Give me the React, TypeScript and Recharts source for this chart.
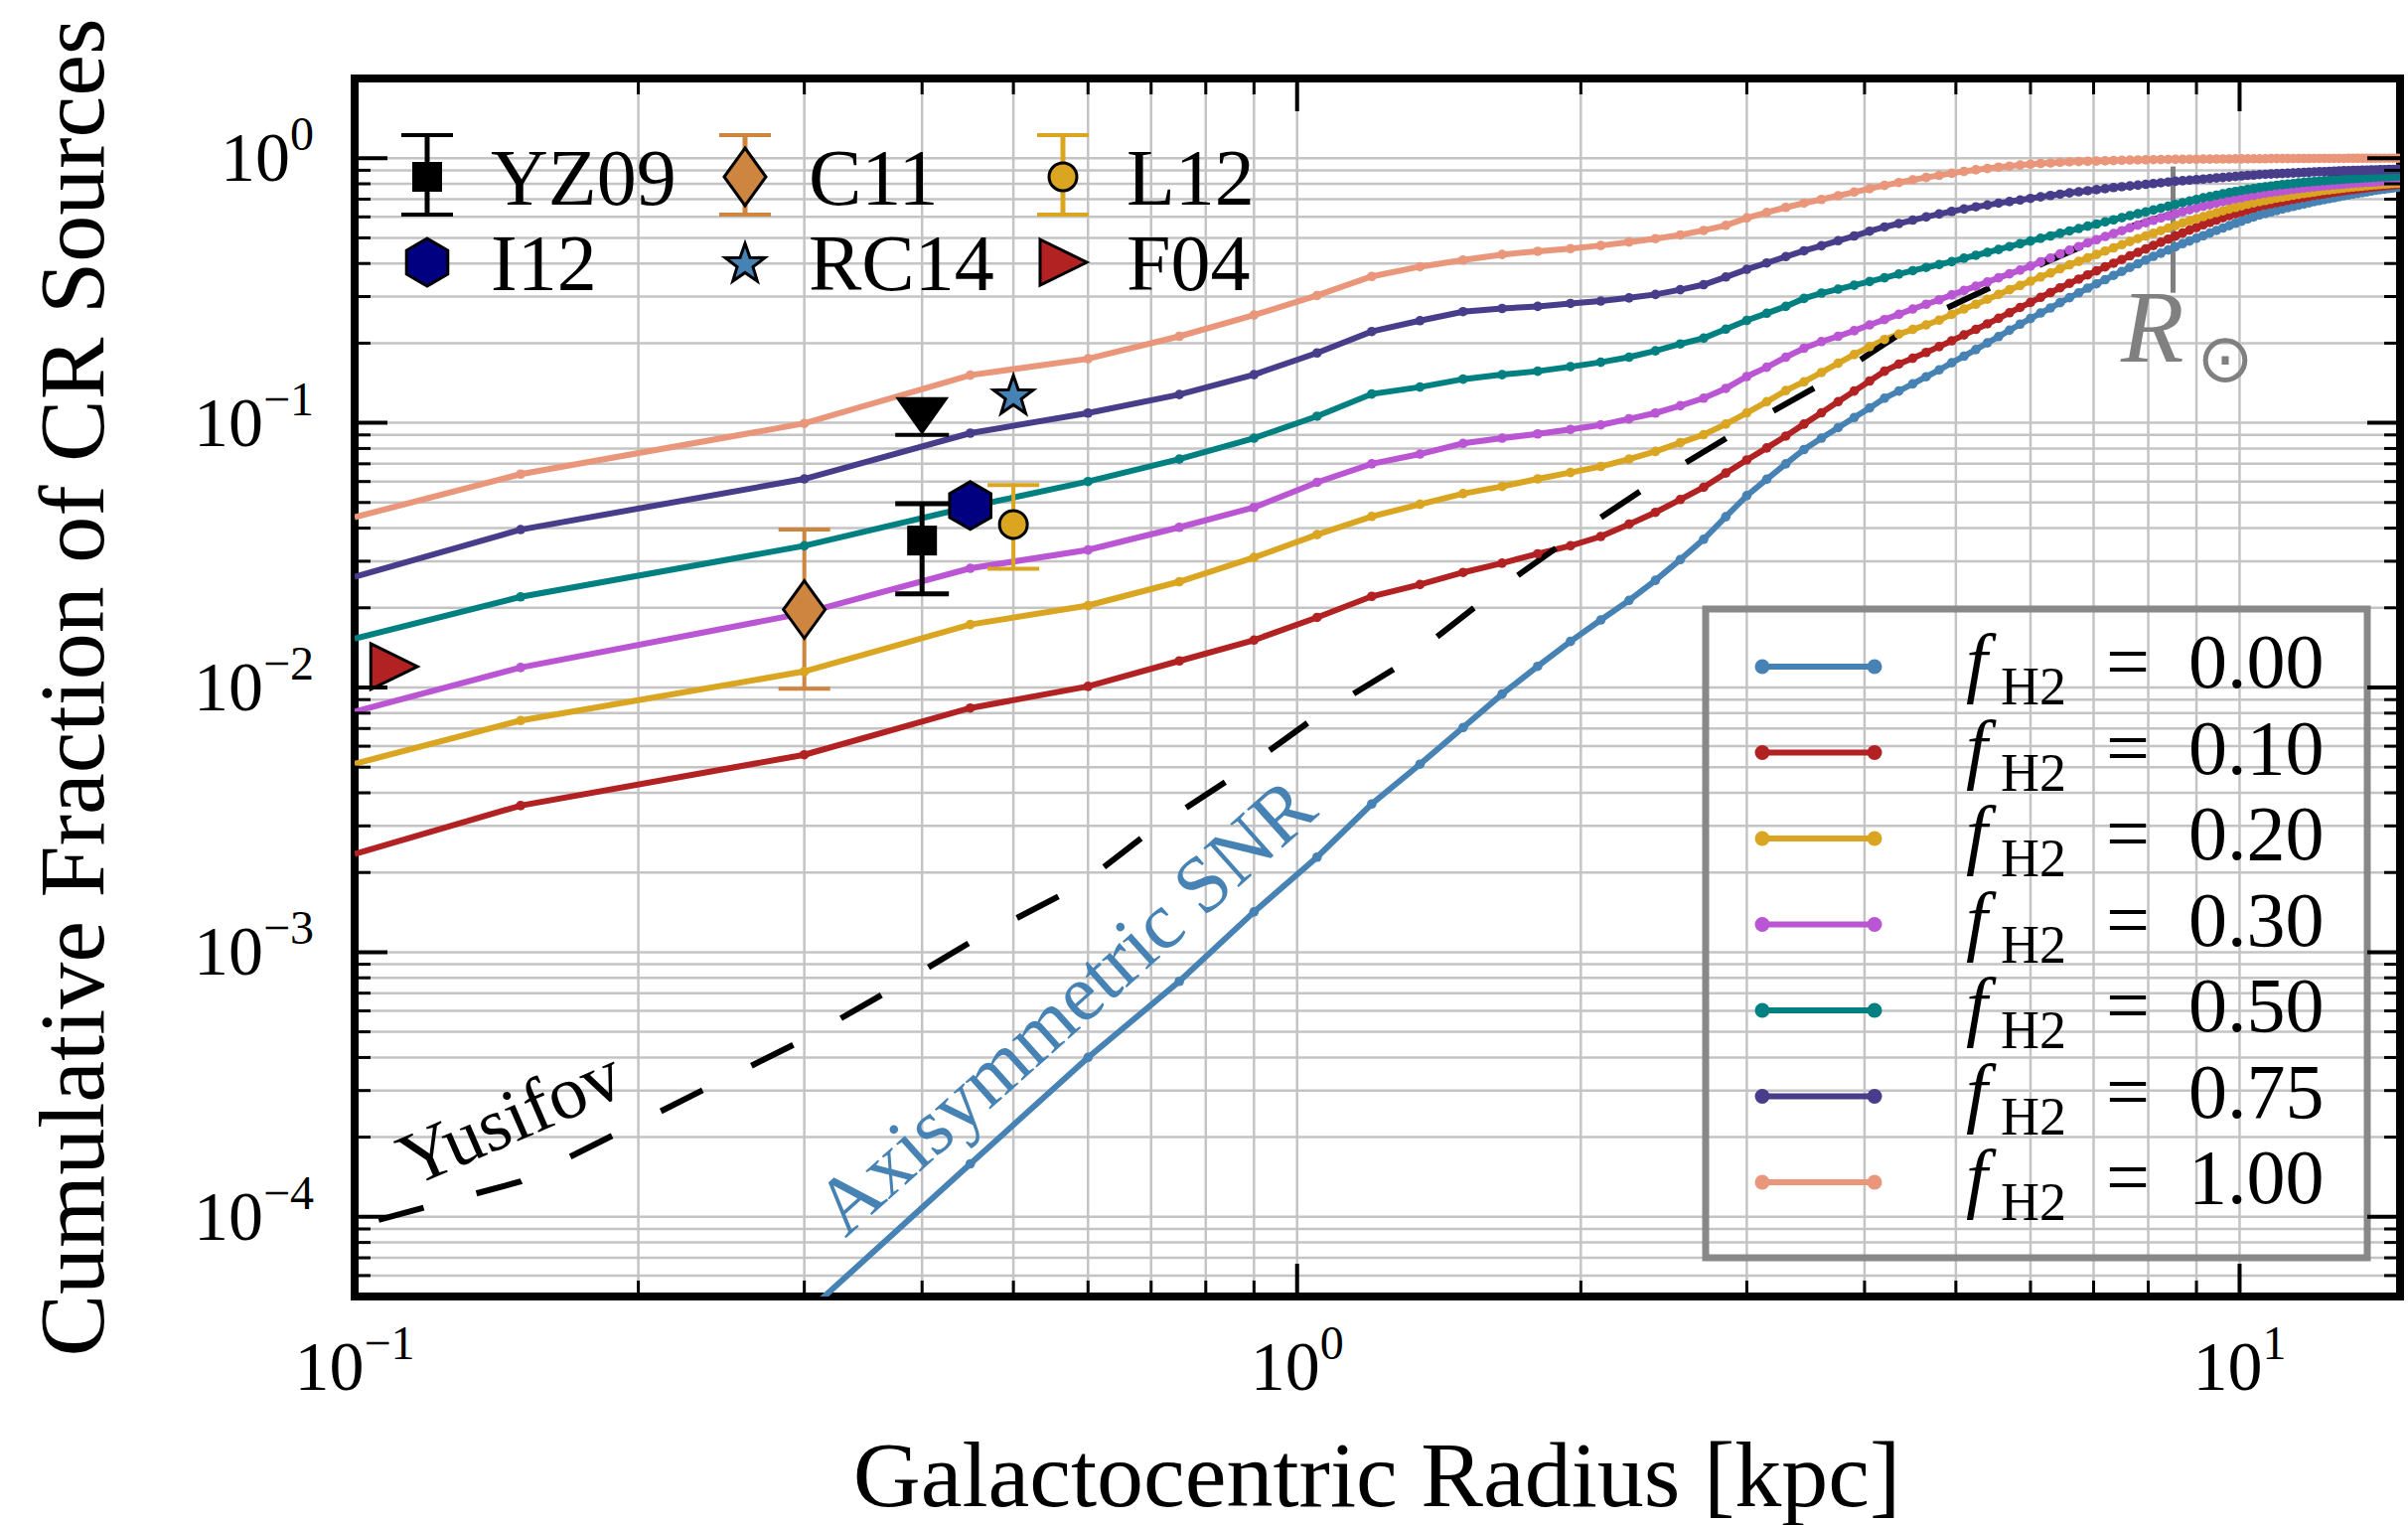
import React from 'react';
import {
  ComposedChart,
  Line,
  Scatter,
  XAxis,
  YAxis,
  CartesianGrid,
  ErrorBar,
  ReferenceLine,
  Customized,
} from 'recharts';

// ---------------- data ----------------
const R_GRID = [
  0.1,
  0.15, 0.3, 0.45, 0.6, 0.75, 0.9, 1.05, 1.2, 1.35, 1.5,
  1.65, 1.8, 1.95, 2.1, 2.25, 2.4, 2.55, 2.7, 2.85, 3.0,
  3.15, 3.3, 3.45, 3.6, 3.75, 3.9, 4.05, 4.2, 4.35, 4.5,
  4.65, 4.8, 4.95, 5.1, 5.25, 5.4, 5.55, 5.7, 5.85, 6.0,
  6.15, 6.3, 6.45, 6.6, 6.75, 6.9, 7.05, 7.2, 7.35, 7.5,
  7.65, 7.8, 7.95, 8.1, 8.25, 8.4, 8.55, 8.7, 8.85, 9.0,
  9.15, 9.3, 9.45, 9.6, 9.75, 9.9, 10.05, 10.2, 10.35, 10.5,
  10.65, 10.8, 10.95, 11.1, 11.25, 11.4, 11.55, 11.7, 11.85, 12.0,
  12.15, 12.3, 12.45, 12.6, 12.75, 12.9, 13.05, 13.2, 13.35, 13.5,
  13.65, 13.8, 13.95, 14.1, 14.25, 14.4, 14.55, 14.7, 14.85, 15.0,
];

const F_000: (number | null)[] = [
  null,
  5e-6, 4.27e-5, 1.585e-4, 4.0e-4, 7.76e-4, 1.419e-3, 2.286e-3, 3.63e-3, 5.13e-3, 7.06e-3,
  9.44e-3, 0.01202, 0.01493, 0.01799, 0.02133, 0.02541, 0.03041, 0.03631, 0.04416, 0.05309,
  0.06124, 0.06998, 0.07925, 0.0875, 0.0959, 0.1047, 0.1138, 0.1239, 0.1318, 0.1403,
  0.1493, 0.1585, 0.1687, 0.1786, 0.1892, 0.2004, 0.2118, 0.2239, 0.236, 0.2477,
  0.26, 0.2716, 0.2844, 0.2972, 0.3097, 0.3228, 0.335, 0.3475, 0.3606, 0.3733,
  0.3864, 0.399, 0.4121, 0.4256, 0.4375, 0.4498, 0.4624, 0.4753, 0.4864, 0.4977,
  0.5093, 0.5212, 0.5333, 0.5445, 0.5559, 0.5675, 0.5781, 0.5888, 0.5998, 0.6095,
  0.618, 0.626, 0.634, 0.642, 0.65, 0.657, 0.664, 0.671, 0.678, 0.685,
  0.691, 0.697, 0.703, 0.709, 0.715, 0.721, 0.726, 0.731, 0.736, 0.741,
  0.746, 0.751, 0.756, 0.76, 0.764, 0.768, 0.772, 0.776, 0.78, 0.784,
];

const F_010: (number | null)[] = [
  0.00235,
  0.00358, 0.00557, 0.00836, 0.0101, 0.0126, 0.0151, 0.0184, 0.0221, 0.0245, 0.0272,
  0.0295, 0.032, 0.0343, 0.0372, 0.0414, 0.0459, 0.0513, 0.0571, 0.0646, 0.0724,
  0.0804, 0.0891, 0.0989, 0.1091, 0.1202, 0.1318, 0.1439, 0.1567, 0.1667, 0.1754,
  0.1845, 0.1941, 0.2042, 0.2148, 0.2254, 0.2366, 0.2483, 0.2606, 0.2729, 0.2851,
  0.2979, 0.3105, 0.3236, 0.3365, 0.3491, 0.3622, 0.375, 0.3882, 0.4009, 0.414,
  0.4276, 0.4406, 0.4539, 0.4677, 0.4808, 0.4943, 0.5082, 0.5212, 0.5346, 0.547,
  0.5598, 0.5715, 0.5834, 0.5957, 0.6067, 0.6166, 0.6266, 0.6368, 0.6471, 0.6577,
  0.665, 0.672, 0.679, 0.686, 0.693, 0.699, 0.705, 0.711, 0.717, 0.723,
  0.728, 0.733, 0.738, 0.743, 0.748, 0.753, 0.757, 0.761, 0.765, 0.769,
  0.773, 0.777, 0.78, 0.783, 0.786, 0.789, 0.792, 0.795, 0.797, 0.799,
];

const F_020: (number | null)[] = [
  0.00515,
  0.0075, 0.0115, 0.0173, 0.0204, 0.0251, 0.031, 0.0378, 0.0443, 0.0492, 0.054,
  0.0575, 0.0614, 0.0649, 0.0684, 0.0729, 0.078, 0.0841, 0.0902, 0.0989, 0.1091,
  0.1202, 0.1324, 0.1429, 0.1549, 0.1679, 0.1811, 0.1941, 0.2065, 0.2163, 0.2254,
  0.2344, 0.2443, 0.257, 0.2692, 0.2805, 0.2931, 0.3055, 0.3184, 0.3304, 0.3428,
  0.3556, 0.3681, 0.3819, 0.3954, 0.4074, 0.4198, 0.4325, 0.4457, 0.4581, 0.471,
  0.4842, 0.4966, 0.5082, 0.52, 0.5321, 0.5445, 0.5559, 0.5689, 0.5794, 0.5902,
  0.6012, 0.6124, 0.6223, 0.6324, 0.6427, 0.6516, 0.6607, 0.6699, 0.6776, 0.6855,
  0.692, 0.699, 0.706, 0.712, 0.718, 0.724, 0.73, 0.735, 0.74, 0.745,
  0.75, 0.755, 0.759, 0.763, 0.767, 0.771, 0.775, 0.778, 0.781, 0.784,
  0.787, 0.79, 0.793, 0.796, 0.798, 0.8, 0.802, 0.804, 0.806, 0.808,
];

const F_030: (number | null)[] = [
  0.0081,
  0.0119, 0.0191, 0.0282, 0.0331, 0.0403, 0.0479, 0.0596, 0.07, 0.0762, 0.0836,
  0.0875, 0.0908, 0.0944, 0.0982, 0.1035, 0.1089, 0.1161, 0.1239, 0.1349, 0.1496,
  0.1622, 0.177, 0.1914, 0.2028, 0.2123, 0.2228, 0.2344, 0.2455, 0.257, 0.2692,
  0.2805, 0.2917, 0.3041, 0.3162, 0.3281, 0.3404, 0.3532, 0.3656, 0.3776, 0.3908,
  0.4055, 0.4188, 0.4345, 0.4487, 0.4634, 0.4786, 0.492, 0.5058, 0.5188, 0.5321,
  0.5458, 0.5585, 0.5702, 0.5821, 0.5943, 0.6053, 0.6166, 0.6281, 0.6383, 0.6486,
  0.6577, 0.6668, 0.6761, 0.6855, 0.6934, 0.7015, 0.7096, 0.7178, 0.7244, 0.7311,
  0.737, 0.743, 0.748, 0.753, 0.758, 0.763, 0.767, 0.771, 0.775, 0.779,
  0.783, 0.786, 0.789, 0.792, 0.795, 0.798, 0.801, 0.804, 0.806, 0.808,
  0.81, 0.812, 0.814, 0.816, 0.818, 0.82, 0.822, 0.824, 0.826, 0.828,
];

const F_050: (number | null)[] = [
  0.0153,
  0.022, 0.0343, 0.0482, 0.06, 0.0729, 0.0875, 0.1059, 0.1285, 0.1365, 0.1462,
  0.1521, 0.1567, 0.1629, 0.1694, 0.177, 0.1871, 0.1986, 0.2089, 0.2259, 0.2438,
  0.2594, 0.2754, 0.2951, 0.309, 0.3199, 0.3311, 0.342, 0.3532, 0.3648, 0.3758,
  0.3864, 0.3963, 0.4064, 0.4188, 0.4295, 0.4406, 0.4519, 0.4634, 0.4753, 0.4864,
  0.4977, 0.5082, 0.52, 0.5309, 0.542, 0.5534, 0.5636, 0.5741, 0.5848, 0.5957,
  0.6067, 0.6166, 0.6266, 0.6368, 0.6471, 0.6577, 0.6683, 0.6792, 0.6887, 0.6982,
  0.7079, 0.7161, 0.7244, 0.7328, 0.7413, 0.7482, 0.7551, 0.7621, 0.7674, 0.7745,
  0.78, 0.785, 0.79, 0.794, 0.798, 0.802, 0.806, 0.81, 0.813, 0.816,
  0.819, 0.822, 0.825, 0.828, 0.83, 0.833, 0.835, 0.837, 0.839, 0.841,
  0.843, 0.845, 0.847, 0.849, 0.851, 0.852, 0.854, 0.856, 0.857, 0.858,
];

const F_075: (number | null)[] = [
  0.0262,
  0.0395, 0.0614, 0.0914, 0.1089, 0.1279, 0.1521, 0.1837, 0.2213, 0.2432, 0.263,
  0.2704, 0.2754, 0.2825, 0.2884, 0.2965, 0.3055, 0.3184, 0.3327, 0.3556, 0.3802,
  0.4018, 0.4246, 0.4467, 0.4667, 0.4875, 0.5082, 0.5297, 0.5495, 0.5662, 0.5834,
  0.5998, 0.6152, 0.6295, 0.6427, 0.6546, 0.6653, 0.6761, 0.6855, 0.695, 0.7047,
  0.7145, 0.7228, 0.7311, 0.7396, 0.7464, 0.7534, 0.7603, 0.7674, 0.7745, 0.7798,
  0.7852, 0.7907, 0.7962, 0.8017, 0.8072, 0.8128, 0.8185, 0.8222, 0.826, 0.8299,
  0.8337, 0.8375, 0.8414, 0.8453, 0.8492, 0.8531, 0.857, 0.861, 0.863, 0.867,
  0.869, 0.871, 0.873, 0.875, 0.877, 0.879, 0.881, 0.883, 0.885, 0.887,
  0.889, 0.89, 0.891, 0.893, 0.894, 0.896, 0.897, 0.898, 0.899, 0.9,
  0.901, 0.902, 0.903, 0.904, 0.905, 0.906, 0.907, 0.908, 0.909, 0.91,
];

const F_100: (number | null)[] = [
  0.044,
  0.064, 0.0995, 0.1514, 0.1746, 0.2123, 0.2553, 0.3027, 0.3573, 0.389, 0.4121,
  0.4325, 0.4446, 0.455, 0.4677, 0.4819, 0.4966, 0.5129, 0.5333, 0.5572, 0.5943,
  0.6237, 0.6516, 0.6761, 0.6982, 0.7211, 0.7447, 0.7674, 0.7889, 0.8091, 0.8279,
  0.8453, 0.861, 0.877, 0.8913, 0.9036, 0.9141, 0.9247, 0.9333, 0.9419, 0.9484,
  0.955, 0.959, 0.964, 0.968, 0.971, 0.973, 0.975, 0.977, 0.979, 0.982,
  0.984, 0.985, 0.986, 0.987, 0.988, 0.989, 0.99, 0.99, 0.991, 0.991,
  0.992, 0.992, 0.993, 0.993, 0.993, 0.994, 0.994, 0.994, 0.995, 0.995,
  0.995, 0.996, 0.996, 0.996, 0.996, 0.997, 0.997, 0.997, 0.997, 0.998,
  0.998, 0.998, 0.998, 0.998, 0.998, 0.998, 0.999, 0.999, 0.999, 0.999,
  0.999, 0.999, 0.999, 1.0, 1.0, 1.0, 1.0, 1.0, 1.0, 1.0,
];

const YUS_R = [0.1, 0.15, 0.2, 0.25, 0.3, 0.38, 0.45, 0.59, 0.7, 0.85, 1.05, 1.29, 1.61, 1.98, 2.44, 3.01, 3.71, 4.6, 5.96, 7.53, 9.6, 12.4, 15];
const YUS_F = [9.2e-5, 1.36e-4, 2.27e-4, 3.39e-4, 4.68e-4, 7.6e-4, 1.09e-3, 1.8e-3, 2.88e-3, 4.53e-3, 7.8e-3, 0.0122, 0.0226, 0.0382, 0.0625, 0.098, 0.149, 0.245, 0.378, 0.542, 0.704, 0.85, 0.91];

// observational points: R, f, lower bound, upper bound
const YZ09 = { R: 0.4, f: 0.0359, lo: 0.0226, hi: 0.0495 };
const YZ09_LIMIT = { R: 0.4, f: 0.09 };
const C11 = { R: 0.3, f: 0.0197, lo: 0.0099, hi: 0.0395 };
const L12 = { R: 0.5, f: 0.0413, lo: 0.0281, hi: 0.0582 };
const I12 = { R: 0.45, f: 0.0487 };
const RC14 = { R: 0.5, f: 0.128 };
const F04 = { R: 0.11, f: 0.012 };

const R_SUN = 8.5;
const R_SUN_RANGE = [0.31, 0.93];

const FH2_LABELS = ['0.00', '0.10', '0.20', '0.30', '0.50', '0.75', '1.00'];
const FH2_COLORS = ['#4682b4', '#b22222', '#daa520', '#ba55d3', '#008080', '#483d8b', '#e9967a'];
const FH2_VALUES = [F_000, F_010, F_020, F_030, F_050, F_075, F_100];

const X_TICKS = [0.1, 0.2, 0.3, 0.4, 0.5, 0.6, 0.7, 0.8, 0.9, 1, 2, 3, 4, 5, 6, 7, 8, 9, 10];
const Y_TICKS = [
  5e-5, 6e-5, 7e-5, 8e-5, 9e-5,
  1e-4, 2e-4, 3e-4, 4e-4, 5e-4, 6e-4, 7e-4, 8e-4, 9e-4,
  1e-3, 2e-3, 3e-3, 4e-3, 5e-3, 6e-3, 7e-3, 8e-3, 9e-3,
  0.01, 0.02, 0.03, 0.04, 0.05, 0.06, 0.07, 0.08, 0.09,
  0.1, 0.2, 0.3, 0.4, 0.5, 0.6, 0.7, 0.8, 0.9,
  1, 2,
];

// ---------------- layout / style ----------------
const FONT = '"Liberation Serif", "Times New Roman", Times, serif';
const CHART_W = 2424;
const CHART_H = 1535;
const PLOT = { left: 357, top: 79, right: 2416, bottom: 1305 };

const curveTable = FH2_LABELS.map((label, i) => ({
  label,
  color: FH2_COLORS[i],
  data: R_GRID.map((R, j) => ({ R, f: FH2_VALUES[i][j] })),
}));
const yusData = YUS_R.map((R, i) => ({ R, f: YUS_F[i] }));
const withErr = (p: { R: number; f: number; lo: number; hi: number }) => [
  { R: p.R, f: p.f, err: [p.f - p.lo, p.hi - p.f] },
];

const isMajor = (v: number) => Math.abs(Math.log10(v) - Math.round(Math.log10(v))) < 1e-6;
const expText = (v: number) => {
  const e = Math.round(Math.log10(v));
  return e < 0 ? '\u2212' + String(-e) : String(e);
};

function XTick(props: any) {
  const { x, payload } = props;
  const v = payload.value;
  const major = isMajor(v);
  const len = major ? 33 : 16;
  const sw = major ? 4 : 3;
  const inside = x > PLOT.left + 3 && x < PLOT.right - 3;
  return (
    <g>
      {inside && (
        <>
          <line x1={x} x2={x} y1={PLOT.bottom} y2={PLOT.bottom - len} stroke="#000" strokeWidth={sw} />
          <line x1={x} x2={x} y1={PLOT.top} y2={PLOT.top + len} stroke="#000" strokeWidth={sw} />
        </>
      )}
      {major && (
        <text x={x} y={1399} textAnchor="middle" fontFamily={FONT} fontSize={70} fill="#000">
          10
          <tspan dy={-31} fontSize={48}>
            {expText(v)}
          </tspan>
        </text>
      )}
    </g>
  );
}

function YTick(props: any) {
  const { y, payload } = props;
  const v = payload.value;
  const major = isMajor(v);
  const len = major ? 33 : 16;
  const sw = major ? 4 : 3;
  const inside = y > PLOT.top + 3 && y < PLOT.bottom - 3;
  return (
    <g>
      {inside && (
        <>
          <line x1={PLOT.left} x2={PLOT.left + len} y1={y} y2={y} stroke="#000" strokeWidth={sw} />
          <line x1={PLOT.right} x2={PLOT.right - len} y1={y} y2={y} stroke="#000" strokeWidth={sw} />
        </>
      )}
      {major && (
        <text x={316} y={y + 23} textAnchor="end" fontFamily={FONT} fontSize={70} fill="#000">
          10
          <tspan dy={-31} fontSize={48}>
            {expText(v)}
          </tspan>
        </text>
      )}
    </g>
  );
}

function Marker({ kind, cx, cy }: { kind: string; cx: number; cy: number }) {
  if (cx == null || cy == null || !isFinite(cx) || !isFinite(cy)) return <g />;
  switch (kind) {
    case 'square':
      return <rect x={cx - 15} y={cy - 15} width={30} height={30} fill="#000" />;
    case 'limit':
      return (
        <g>
          <polygon points={`${cx - 27},${cy - 38} ${cx + 27},${cy - 38} ${cx},${cy}`} fill="#000" />
          <line x1={cx - 27} x2={cx + 27} y1={cy} y2={cy} stroke="#000" strokeWidth={4} />
        </g>
      );
    case 'diamond':
      return (
        <polygon
          points={`${cx},${cy - 29} ${cx + 21},${cy} ${cx},${cy + 29} ${cx - 21},${cy}`}
          fill="#cd853f"
          stroke="#000"
          strokeWidth={3}
        />
      );
    case 'circle':
      return <circle cx={cx} cy={cy} r={14} fill="#daa520" stroke="#000" strokeWidth={3} />;
    case 'hexagon': {
      const pts = [-90, -30, 30, 90, 150, 210]
        .map((a) => `${cx + 24 * Math.cos((a * Math.PI) / 180)},${cy + 24 * Math.sin((a * Math.PI) / 180)}`)
        .join(' ');
      return <polygon points={pts} fill="#000080" stroke="#000" strokeWidth={3} />;
    }
    case 'star': {
      const pts: string[] = [];
      for (let i = 0; i < 10; i++) {
        const r = i % 2 === 0 ? 21 : 8.4;
        const a = ((-90 + i * 36) * Math.PI) / 180;
        pts.push(`${cx + r * Math.cos(a)},${cy + 2 + r * Math.sin(a)}`);
      }
      return <polygon points={pts.join(' ')} fill="#4682b4" stroke="#000" strokeWidth={3} />;
    }
    case 'triright':
      return (
        <polygon
          points={`${cx - 23},${cy - 23} ${cx + 24},${cy} ${cx - 23},${cy + 23}`}
          fill="#b22222"
          stroke="#000"
          strokeWidth={3}
        />
      );
    default:
      return <g />;
  }
}

const shapeOf = (kind: string) => (p: any) => <Marker kind={kind} cx={p.cx} cy={p.cy} />;

const dotOf = (color: string) => (p: any) => {
  const { cx, cy, payload, index } = p;
  if (cx == null || cy == null || !isFinite(cy) || payload == null || payload.R < 0.12 || payload.f == null) {
    return <g key={`d${index}`} />;
  }
  return <circle key={`d${index}`} cx={cx} cy={cy} r={4.8} fill={color} stroke="none" />;
};

const LEGEND1 = [
  { kind: 'square', label: 'YZ09', err: '#000', col: 0, row: 0 },
  { kind: 'diamond', label: 'C11', err: '#cd853f', col: 1, row: 0 },
  { kind: 'circle', label: 'L12', err: '#daa520', col: 2, row: 0 },
  { kind: 'hexagon', label: 'I12', err: null, col: 0, row: 1 },
  { kind: 'star', label: 'RC14', err: null, col: 1, row: 1 },
  { kind: 'triright', label: 'F04', err: null, col: 2, row: 1 },
];
const L1_COLS = [430, 750, 1070];
const L1_ROWS = [178, 264];

function Overlay() {
  return (
    <g>
      {/* plot frame */}
      <rect
        x={PLOT.left}
        y={PLOT.top}
        width={PLOT.right - PLOT.left}
        height={PLOT.bottom - PLOT.top}
        fill="none"
        stroke="#000"
        strokeWidth={8}
      />
      {/* axis titles */}
      <text x={1386} y={1516} textAnchor="middle" fontFamily={FONT} fontSize={94} fill="#000">
        Galactocentric Radius [kpc]
      </text>
      <text
        transform="translate(104,692) rotate(-90)"
        textAnchor="middle"
        fontFamily={FONT}
        fontSize={94}
        fill="#000"
      >
        Cumulative Fraction of CR Sources
      </text>
      {/* annotations */}
      <text
        transform="translate(513,1124) rotate(-23.5)"
        textAnchor="middle"
        dominantBaseline="central"
        fontFamily={FONT}
        fontSize={76}
        fill="#000"
      >
        Yusifov
      </text>
      <text
        transform="translate(1072,1013) rotate(-41.8)"
        textAnchor="middle"
        dominantBaseline="central"
        fontFamily={FONT}
        fontSize={81}
        fill="#4682b4"
      >
        Axisymmetric SNR
      </text>
      <text x={2135} y={364} fontFamily={FONT} fontStyle="italic" fontSize={104} fill="#808080">
        R
      </text>
      <text x={2240} y={384} textAnchor="middle" fontFamily='"DejaVu Sans", sans-serif' fontSize={68} fill="#808080">
        ⊙
      </text>
      {/* upper-left legend */}
      {LEGEND1.map((e) => {
        const cx = L1_COLS[e.col];
        const cy = L1_ROWS[e.row];
        return (
          <g key={e.label}>
            {e.err && (
              <g stroke={e.err} strokeWidth={5}>
                <line x1={cx} x2={cx} y1={cy - 42} y2={cy + 38} />
                <line x1={cx - 26} x2={cx + 26} y1={cy - 42} y2={cy - 42} strokeWidth={4} />
                <line x1={cx - 26} x2={cx + 26} y1={cy + 38} y2={cy + 38} strokeWidth={4} />
              </g>
            )}
            <Marker kind={e.kind} cx={cx} cy={cy} />
            <text x={cx + 64} y={cy + 28} fontFamily={FONT} fontSize={80} fill="#000">
              {e.label}
            </text>
          </g>
        );
      })}
      {/* f_H2 legend */}
      <rect x={1717} y={613} width={666} height={653} fill="none" stroke="#888" strokeWidth={7} />
      {curveTable.map((c, i) => {
        const y = 671 + 86.5 * i;
        return (
          <g key={c.label}>
            <line x1={1774} x2={1887} y1={y} y2={y} stroke={c.color} strokeWidth={6} />
            <circle cx={1774} cy={y} r={7.5} fill={c.color} />
            <circle cx={1887} cy={y} r={7.5} fill={c.color} />
            <text y={y + 21} fontFamily={FONT} fontSize={78} fill="#000">
              <tspan x={1979} fontStyle="italic">
                f
              </tspan>
              <tspan x={2014} dy={17} fontSize={54}>
                H2
              </tspan>
              <tspan x={2120} dy={-17}>
                =
              </tspan>
              <tspan x={2203}>{c.label}</tspan>
            </text>
          </g>
        );
      })}
    </g>
  );
}

export default function App() {
  return (
    <>
      <style>{'html,body{margin:0;padding:0;background:#fff;}'}</style>
      <ComposedChart
        width={CHART_W}
        height={CHART_H}
        margin={{ top: PLOT.top, right: CHART_W - PLOT.right, bottom: 0, left: 0 }}
      >
        <CartesianGrid stroke="#c4c4c4" strokeWidth={2.5} />
        <XAxis
          dataKey="R"
          type="number"
          scale="log"
          domain={[0.1, 14.8]}
          allowDataOverflow
          ticks={X_TICKS}
          interval={0}
          tick={(p: any) => <XTick {...p} />}
          tickLine={false}
          axisLine={false}
          height={CHART_H - PLOT.bottom}
        />
        <YAxis
          dataKey="f"
          type="number"
          scale="log"
          domain={[5e-5, 2]}
          allowDataOverflow
          ticks={Y_TICKS}
          interval={0}
          tick={(p: any) => <YTick {...p} />}
          tickLine={false}
          axisLine={false}
          width={PLOT.left}
        />
        <ReferenceLine
          segment={[
            { x: R_SUN, y: R_SUN_RANGE[0] },
            { x: R_SUN, y: R_SUN_RANGE[1] },
          ]}
          stroke="#808080"
          strokeWidth={5}
        />
        {curveTable.map((c) => (
          <Line
            key={c.label}
            data={c.data}
            dataKey="f"
            type="linear"
            stroke={c.color}
            strokeWidth={6}
            dot={dotOf(c.color)}
            activeDot={false}
            isAnimationActive={false}
          />
        ))}
        <Line
          data={yusData}
          dataKey="f"
          type="linear"
          stroke="#000"
          strokeWidth={6}
          strokeDasharray="47 55"
          strokeDashoffset={77}
          dot={false}
          activeDot={false}
          isAnimationActive={false}
        />
        <Scatter data={withErr(C11)} dataKey="f" shape={shapeOf('diamond')} isAnimationActive={false}>
          <ErrorBar dataKey="err" direction="y" width={26} stroke="#cd853f" strokeWidth={4} />
        </Scatter>
        <Scatter data={withErr(YZ09)} dataKey="f" shape={shapeOf('square')} isAnimationActive={false}>
          <ErrorBar dataKey="err" direction="y" width={27} stroke="#000" strokeWidth={5} />
        </Scatter>
        <Scatter data={withErr(L12)} dataKey="f" shape={shapeOf('circle')} isAnimationActive={false}>
          <ErrorBar dataKey="err" direction="y" width={26} stroke="#daa520" strokeWidth={4} />
        </Scatter>
        <Scatter data={[YZ09_LIMIT]} dataKey="f" shape={shapeOf('limit')} isAnimationActive={false} />
        <Scatter data={[I12]} dataKey="f" shape={shapeOf('hexagon')} isAnimationActive={false} />
        <Scatter data={[RC14]} dataKey="f" shape={shapeOf('star')} isAnimationActive={false} />
        <Scatter data={[F04]} dataKey="f" shape={shapeOf('triright')} isAnimationActive={false} />
        <Customized component={<Overlay />} />
      </ComposedChart>
    </>
  );
}
